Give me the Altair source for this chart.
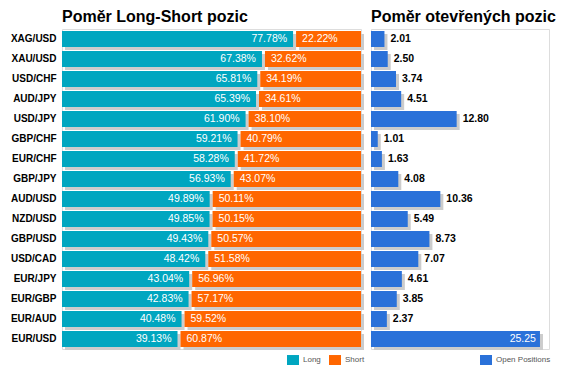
import altair as alt
import pandas as pd

pairs = ["XAG/USD", "XAU/USD", "USD/CHF", "AUD/JPY", "USD/JPY", "GBP/CHF", "EUR/CHF", "GBP/JPY",
         "AUD/USD", "NZD/USD", "GBP/USD", "USD/CAD", "EUR/JPY", "EUR/GBP", "EUR/AUD", "EUR/USD"]
long_pct = [77.78, 67.38, 65.81, 65.39, 61.90, 59.21, 58.28, 56.93,
            49.89, 49.85, 49.43, 48.42, 43.04, 42.83, 40.48, 39.13]
short_pct = [22.22, 32.62, 34.19, 34.61, 38.10, 40.79, 41.72, 43.07,
             50.11, 50.15, 50.57, 51.58, 56.96, 57.17, 59.52, 60.87]
open_pos = [2.01, 2.50, 3.74, 4.51, 12.80, 1.01, 1.63, 4.08,
            10.36, 5.49, 8.73, 7.07, 4.61, 3.85, 2.37, 25.25]

FONT = "Arial"
TEAL = "#00A6C0"
ORANGE = "#FF6600"
BLUE = "#2A71D9"
SHADOW = "#CCCCCC"
GAP = 0.5
H = 320
LEG_Y = 325

rows = []
for p, l, s in zip(pairs, long_pct, short_pct):
    rows.append(dict(pair=p, side="Long", x0=0, x1=l - GAP, label=f"{l:.2f}%"))
    rows.append(dict(pair=p, side="Short", x0=l + GAP, x1=100, label=f"{s:.2f}%"))
df = pd.DataFrame(rows)

df2 = pd.DataFrame(dict(pair=pairs, val=open_pos, label=[f"{v:.2f}" for v in open_pos],
                        series=["Open Positions"] * len(pairs)))

yscale = alt.Scale(paddingInner=0.2, paddingOuter=0.1)
y_left = alt.Y("pair:N", sort=pairs, scale=yscale,
               axis=alt.Axis(title=None, ticks=False, domain=False, labelFontWeight="bold",
                             labelFontSize=10, labelColor="black", labelPadding=6,
                             minExtent=53, maxExtent=53, labelFont=FONT))
y_right = alt.Y("pair:N", sort=pairs, scale=yscale, axis=None)

SYM = "M-1,-0.83L1,-0.83L1,0.83L-1,0.83Z"
xs = alt.Scale(domain=[0, 100], nice=False, zero=True)
base = alt.Chart(df)
shadow = base.mark_bar(color=SHADOW, xOffset=3, x2Offset=3, yOffset=3, y2Offset=3).encode(
    x=alt.X("x0:Q", scale=xs, axis=None), x2="x1:Q", y=y_left)
bars = base.mark_bar().encode(
    x=alt.X("x0:Q", scale=xs, axis=None), x2="x1:Q", y=y_left,
    color=alt.Color("side:N", scale=alt.Scale(domain=["Long", "Short"], range=[TEAL, ORANGE]),
                    legend=alt.Legend(title=None, orient="none", legendX=225, legendY=LEG_Y,
                                      direction="horizontal", symbolType=SYM,
                                      symbolSize=144, symbolStrokeWidth=0, symbolOpacity=1,
                                      labelFontSize=8, labelColor="#555555", labelFont=FONT,
                                      columnPadding=8, labelOffset=4, padding=0)))
long_txt = base.transform_filter(alt.datum.side == "Long").mark_text(
    align="right", dx=-6, color="white", fontSize=10.5, font=FONT).encode(
    x=alt.X("x1:Q", scale=xs, axis=None), y=y_left, text="label:N")
short_txt = base.transform_filter(alt.datum.side == "Short").mark_text(
    align="left", dx=6, color="white", fontSize=10.5, font=FONT).encode(
    x=alt.X("x0:Q", scale=xs, axis=None), y=y_left, text="label:N")

left = alt.layer(shadow, bars, long_txt, short_txt).properties(
    width=299, height=H,
    title=alt.TitleParams("Poměr Long-Short pozic", anchor="start", frame="group",
                          fontSize=16, font=FONT, fontWeight="bold", color="black", offset=4))

xs2 = alt.Scale(domain=[0, 26.6], nice=False, zero=True)
base2 = alt.Chart(df2)
shadow2 = base2.mark_bar(color=SHADOW, xOffset=3, x2Offset=3, yOffset=3, y2Offset=3).encode(
    x=alt.X("val:Q", scale=xs2, axis=None), y=y_right)
bars2 = base2.mark_bar().encode(
    x=alt.X("val:Q", scale=xs2, axis=None), y=y_right,
    color=alt.Color("series:N", scale=alt.Scale(domain=["Open Positions"], range=[BLUE]),
                    legend=alt.Legend(title=None, orient="none", legendX=109, legendY=LEG_Y,
                                      direction="horizontal", symbolType=SYM,
                                      symbolSize=144, symbolStrokeWidth=0, symbolOpacity=1,
                                      labelFontSize=8, labelColor="#555555", labelFont=FONT,
                                      labelOffset=4, padding=0)))
out_txt = base2.transform_filter(alt.datum.val < 20).mark_text(
    align="left", dx=6, color="black", fontSize=10.5, fontWeight="bold", font=FONT).encode(
    x=alt.X("val:Q", scale=xs2, axis=None), y=y_right, text="label:N")
in_txt = base2.transform_filter(alt.datum.val >= 20).mark_text(
    align="right", dx=-4, color="white", fontSize=10.5, font=FONT).encode(
    x=alt.X("val:Q", scale=xs2, axis=None), y=y_right, text="label:N")

right = alt.layer(shadow2, bars2, out_txt, in_txt).properties(
    width=178, height=H,
    title=alt.TitleParams("Poměr otevřených pozic", anchor="start", frame="group",
                          fontSize=16, font=FONT, fontWeight="bold", color="black", offset=4))

chart = alt.hconcat(left, right, spacing=10, bounds="flush").resolve_scale(
    color="independent", x="independent", y="independent").resolve_legend(
    color="independent").properties(padding=0).configure_view(stroke=None).configure(
    background="white")

chart.save("out.html", embed_options={"renderer": "svg", "actions": False})
